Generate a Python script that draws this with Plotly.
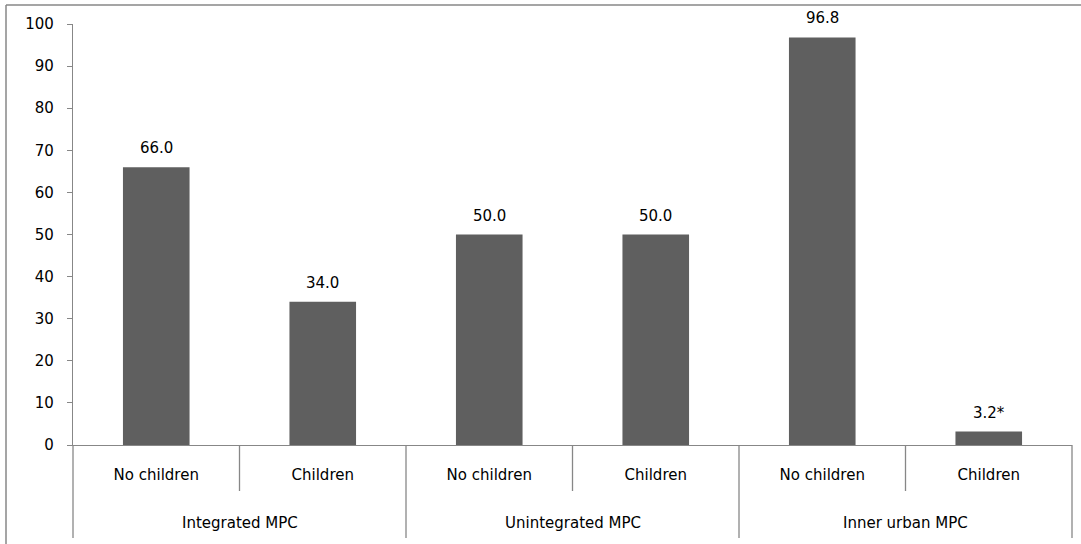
import plotly.graph_objects as go

groups = ["Integrated MPC", "Unintegrated MPC", "Inner urban MPC"]
subs = ["No children", "Children", "No children", "Children", "No children", "Children"]
values = [66.0, 34.0, 50.0, 50.0, 96.8, 3.2]
labels = ["66.0", "34.0", "50.0", "50.0", "96.8", "3.2*"]
yticks = list(range(0, 101, 10))

W, H = 1081, 544
ML, MR, MT, MB = 73, 9, 24, 99
PW, PH = W - ML - MR, H - MT - MB

FONT = "DejaVu Sans"
GRAY = "#878787"
n = len(subs)
xs = list(range(n))

fig = go.Figure(go.Bar(x=xs, y=values, marker_color="#5f5f5f", marker_line_width=0,
                       hoverinfo="skip"))

ann = []
for x, v, t in zip(xs, values, labels):
    ann.append(dict(x=x, y=v, text=t, showarrow=False, xanchor="center", yanchor="middle",
                    yshift=19, font=dict(family=FONT, size=15, color="#000")))
per = n // len(groups)
for gi, g in enumerate(groups):
    ann.append(dict(x=(gi + 0.5) / len(groups), xref="paper", y=0, yref="paper",
                    xanchor="center", yanchor="middle", yshift=-78, text=g, showarrow=False,
                    font=dict(family=FONT, size=15, color="#000")))

shapes = []
def py(px):  # pixel offset below axis -> paper
    return -px / PH
for i in range(n + 1):
    is_group = i % per == 0
    shapes.append(dict(type="line", xref="paper", yref="paper",
                       x0=i / n, x1=i / n, y0=0, y1=py(93 if is_group else 46),
                       line=dict(color=GRAY, width=1.3)))
# chart area border (top & left visible)
bx = (6 - ML) / PW
by = 1 + (MT - 5) / PH
shapes.append(dict(type="line", xref="paper", yref="paper", x0=bx, x1=(W + 5 - ML) / PW,
                   y0=by, y1=by, line=dict(color=GRAY, width=1.5)))
shapes.append(dict(type="line", xref="paper", yref="paper", x0=bx, x1=bx,
                   y0=by, y1=-(MB + 5) / PH, line=dict(color=GRAY, width=1.5)))

fig.update_layout(
    width=W, height=H,
    margin=dict(l=ML, r=MR, t=MT, b=MB, autoexpand=False),
    paper_bgcolor="white", plot_bgcolor="white",
    bargap=0.6, showlegend=False,
    annotations=ann, shapes=shapes,
    font=dict(family=FONT, size=15, color="#000"),
)
fig.update_xaxes(range=[-0.5, n - 0.5], tickvals=xs, ticktext=subs, showline=True,
                 linecolor=GRAY, linewidth=1.3, ticks="", showgrid=False, zeroline=False,
                 ticklabelstandoff=16, tickfont=dict(family=FONT, size=15, color="#000"))
fig.update_yaxes(range=[0, 100], tickvals=yticks, showline=True, linecolor=GRAY,
                 linewidth=1.3, ticks="outside", ticklen=5, tickcolor=GRAY, showgrid=False,
                 zeroline=False, ticklabelstandoff=10,
                 tickfont=dict(family=FONT, size=15, color="#000"))

fig.write_html("out.html", config={"displayModeBar": False},
               post_script="document.body.style.margin='0';document.body.style.overflow='hidden';")
